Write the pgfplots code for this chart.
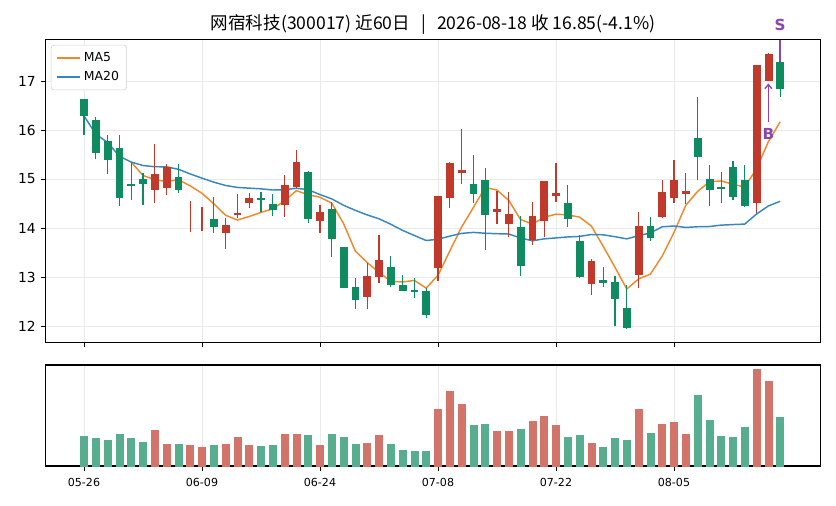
\documentclass[border=0pt]{standalone}
\usepackage{pgfplots}
\pgfplotsset{compat=1.18}
\usepackage{pgfplotstable}
\usepackage{fontspec}
\setmainfont{DejaVu Sans}
\newfontfamily\cjk{Noto Sans CJK SC}
\usetikzlibrary{arrows.meta}

\definecolor{upc}{HTML}{C0392B}
\definecolor{dnc}{HTML}{0F8C5F}
\definecolor{ma5c}{HTML}{EC8A2C}
\definecolor{ma20c}{HTML}{3786C2}
\definecolor{sigc}{HTML}{8E44AD}
\definecolor{gridc}{HTML}{EAEAEA}

\pgfdeclareplotmark{nothing}{}

% daily bars: index, open, high, low, close, volume (relative)
\pgfplotstableread{
i  o     h     l     c     v
0  16.63 16.63 15.90 16.29 30
1  16.20 16.27 15.40 15.54 28
2  15.76 15.89 15.10 15.41 26
3  15.63 15.89 14.45 14.62 32
4  14.90 15.32 14.57 14.87 28
5  15.00 15.13 14.47 14.92 24
6  14.79 15.71 14.50 15.10 36
7  14.84 15.30 14.67 15.23 22
8  15.03 15.30 14.71 14.80 22
9  14.25 14.55 13.91 14.25 21
10 14.16 14.43 13.94 14.16 19
11 14.18 14.63 13.89 14.03 21
12 13.91 14.20 13.57 14.06 22
13 14.27 14.69 14.20 14.31 29
14 14.52 14.71 14.40 14.61 21
15 14.61 14.74 14.33 14.58 20
16 14.49 14.69 14.24 14.39 21
17 14.48 15.08 14.22 14.88 32
18 14.85 15.59 14.81 15.35 32
19 15.14 15.16 14.11 14.19 31
20 14.15 14.46 13.89 14.33 21
21 14.39 14.54 13.40 13.78 32
22 13.61 13.61 12.78 12.80 29
23 12.80 12.97 12.35 12.54 22
24 12.60 13.28 12.34 13.02 23
25 13.01 13.85 12.88 13.34 31
26 13.20 13.43 12.80 12.86 22
27 12.84 13.04 12.72 12.73 16
28 12.73 12.97 12.57 12.70 15
29 12.71 12.77 12.16 12.23 15
30 13.19 14.65 12.92 14.65 57
31 14.62 15.35 14.40 15.33 75
32 15.14 16.03 14.89 15.18 62
33 14.90 15.48 14.50 14.70 41
34 14.98 15.23 13.55 14.27 42
35 14.35 14.76 14.08 14.39 35
36 14.09 14.73 13.81 14.27 35
37 14.02 14.25 13.03 13.23 37
38 13.76 14.54 13.65 14.24 45
39 14.15 14.96 13.81 14.96 50
40 14.67 15.32 14.54 14.71 41
41 14.51 14.87 14.03 14.19 29
42 13.73 13.85 12.97 13.01 31
43 12.88 13.36 12.63 13.33 23
44 12.94 13.21 12.79 12.90 19
45 12.89 13.03 11.99 12.56 28
46 12.37 12.84 11.93 11.97 26
47 13.06 14.33 12.77 14.04 57
48 14.04 14.22 13.73 13.82 33
49 14.24 14.97 14.20 14.73 42
50 14.62 15.38 14.50 14.98 44
51 14.70 15.12 14.49 14.74 32
52 15.84 16.67 14.97 15.46 71
53 14.99 15.29 14.44 14.80 46
54 14.84 15.14 14.50 14.82 30
55 15.24 15.36 14.57 14.64 29
56 14.98 15.28 14.42 14.46 39
57 14.52 17.33 14.30 17.33 97
58 17.01 17.57 17.01 17.55 85
59 17.39 17.41 16.68 16.85 49
}\kdata

\pgfplotstableread{
i  ma5    ma20
0  nan    16.29
1  nan    15.915
2  nan    15.747
3  nan    15.465
4  15.346 15.346
5  15.072 15.275
6  14.984 15.25
7  14.948 15.248
8  14.984 15.198
9  14.86  15.103
10 14.708 15.017
11 14.494 14.935
12 14.26  14.868
13 14.162 14.828
14 14.234 14.813
15 14.318 14.799
16 14.39  14.775
17 14.554 14.781
18 14.762 14.811
19 14.678 14.78
20 14.628 14.682
21 14.506 14.594
22 14.09  14.463
23 13.528 14.359
24 13.294 14.267
25 13.096 14.188
26 12.912 14.076
27 12.898 13.951
28 12.93  13.846
29 12.772 13.745
30 13.034 13.769
31 13.528 13.834
32 14.018 13.89
33 14.418 13.91
34 14.826 13.893
35 14.774 13.883
36 14.562 13.877
37 14.172 13.795
38 14.08  13.739
39 14.218 13.778
40 14.282 13.797
41 14.266 13.817
42 14.222 13.828
43 14.04  13.867
44 13.628 13.861
45 13.198 13.822
46 12.754 13.778
47 12.96  13.843
48 13.058 13.899
49 13.424 14.024
50 13.908 14.041
51 14.462 14.011
52 14.746 14.025
53 14.942 14.03
54 14.96  14.058
55 14.892 14.07
56 14.836 14.08
57 15.21  14.285
58 15.76  14.45
59 16.166 14.545
}\madata

\pgfplotsset{
  kbase/.style={
    only marks, mark=nothing, forget plot, scatter,
    visualization depends on={\thisrow{o} \as \vO},
    visualization depends on={\thisrow{h} \as \vH},
    visualization depends on={\thisrow{l} \as \vL},
    visualization depends on={\thisrow{c} \as \vC},
    visualization depends on={\thisrow{v} \as \vV},
    scatter/@post marker code/.code={},
  },
  candle/.style={
    kbase,
    scatter/@pre marker code/.code={%
      \pgfmathsetmacro\yO{(\vO-\vC)*35.28}%
      \pgfmathsetmacro\yH{(\vH-\vC)*35.28}%
      \pgfmathsetmacro\yL{(\vL-\vC)*35.28}%
      \pgfmathtruncatemacro\isup{\vC>=\vO}%
      \pgfmathtruncatemacro\hasbody{abs(\vO-\vC)>0.001}%
      \ifnum\isup=1 \def\kcol{upc}\else\def\kcol{dnc}\fi
      \draw[\kcol, line width=0.9bp] (0bp,\yL bp) -- (0bp,\yH bp);
      \ifnum\hasbody=1 \fill[\kcol] (-2.45bp,\yO bp) rectangle (2.45bp,0bp);\fi
    },
  },
  volbar/.style={
    kbase,
    scatter/@pre marker code/.code={%
      \pgfmathsetmacro\yV{-\vV*0.72}%
      \pgfmathtruncatemacro\isup{\vC>=\vO}%
      \ifnum\isup=1 \def\kcol{upc!70!white}\else\def\kcol{dnc!70!white}\fi
      \fill[\kcol] (-2.5bp,\yV bp) rectangle (2.5bp,0bp);
    },
  },
}

\begin{document}
\begin{tikzpicture}
\path[use as bounding box] (0bp,0bp) rectangle (601.92bp,364.32bp);

% price panel
\begin{axis}[
  at={(32.76bp,117.72bp)}, anchor=south west,
  x=8.496bp, y=35.28bp,
  xmin=-3.26, xmax=62.42, ymin=11.663, ymax=17.847,
  xtick={0,10,20,30,40,50}, xticklabels={},
  ytick={12,13,14,15,16,17},
  tick align=outside, xtick pos=left, ytick pos=left,
  major tick length=3.5bp,
  tick style={black, line width=0.6bp},
  axis line style={line width=0.8bp},
  grid=major, grid style={gridc, line width=0.6bp},
  /pgf/number format/assume math mode=true,
  yticklabel style={font=\fontsize{10}{12}\selectfont},
  clip=false,
  legend cell align=left,
  legend style={at={(0.007,0.982)}, anchor=north west,
    draw=black!18, rounded corners=2bp, fill=white,
    font=\fontsize{9}{10}\selectfont, inner xsep=3.5bp, inner ysep=3.3bp,
    row sep=1.4bp},
  legend image code/.code={\draw[#1] (0bp,0bp) -- (17bp,0bp);},
]
\addplot [candle] table [x=i, y=c] \kdata;
\addplot [ma5c, line width=1.05bp] table [x=i, y=ma5] \madata;
\addlegendentry{MA5}
\addplot [ma20c, line width=1.05bp] table [x=i, y=ma20] \madata;
\addlegendentry{MA20}

\draw[sigc, line width=1bp, -{Straight Barb[length=3bp,width=5bp]}]
  (axis cs:58,16.17) -- (axis cs:58,16.95);
\node[sigc, font=\bfseries\fontsize{11}{12}\selectfont] at (axis cs:58,15.91) {B};
\draw[sigc, line width=1bp, -{Straight Barb[length=3bp,width=5bp]}]
  (axis cs:59,17.83) -- (axis cs:59,16.96);
\node[sigc, font=\bfseries\fontsize{11}{12}\selectfont] at (axis cs:59,18.14) {S};
\end{axis}

% volume panel
\begin{axis}[
  at={(32.76bp,28.8bp)}, anchor=south west,
  x=8.496bp, y=0.72bp,
  xmin=-3.26, xmax=62.42, ymin=0, ymax=101,
  xtick={0,10,20,30,40,50},
  xticklabels={05-26,06-09,06-24,07-08,07-22,08-05},
  ytick=\empty,
  tick align=outside, xtick pos=left,
  major tick length=3.5bp,
  tick style={black, line width=0.6bp},
  axis line style={line width=0.8bp},
  xmajorgrids, grid style={gridc, line width=0.6bp},
  xticklabel style={font=\fontsize{8}{9}\selectfont, yshift=-1.5bp},
]
\addplot [volbar] table [x=i, y=v] \kdata;
\end{axis}

\node[anchor=base, font=\cjk\fontsize{12.7}{14}\selectfont] at (311.76bp,343.1bp)
  {网宿科技(300017) 近60日\hspace{8bp}|\hspace{8bp}2026-08-18 收 16.85(-4.1\%)};
\end{tikzpicture}
\end{document}
